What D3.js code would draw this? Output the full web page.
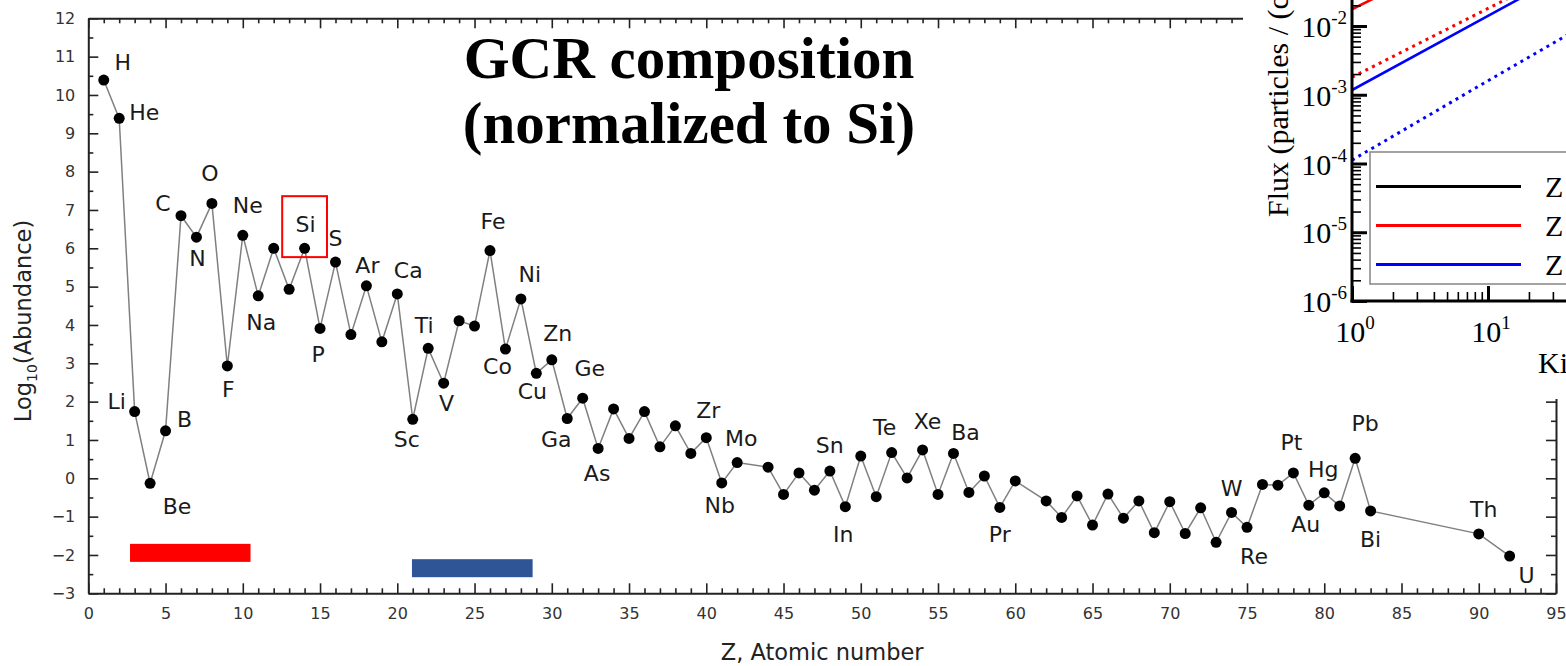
<!DOCTYPE html>
<html>
<head>
<meta charset="utf-8">
<script src="https://cdn.jsdelivr.net/npm/d3@7"></script>
<style>
body { margin: 0; background: #fff; }
</style>
</head>
<body>
<div id="viz"></div>
<script>
// ---- data ----
const atomicNumber = [1,2,3,4,5,6,7,8,9,10,11,12,13,14,15,16,17,18,19,20,21,22,23,24,25,26,27,28,29,30,
    31,32,33,34,35,36,37,38,39,40,41,42,44,45,46,47,48,49,50,51,52,53,54,55,56,57,58,59,60,
    62,63,64,65,66,67,68,69,70,71,72,73,74,75,76,77,78,79,80,81,82,83,90,92];
const symbols = ["H","He","Li","Be","B","C","N","O","F","Ne","Na","Mg","Al","Si","P","S","Cl","Ar","K","Ca",
    "Sc","Ti","V","Cr","Mn","Fe","Co","Ni","Cu","Zn","Ga","Ge","As","Se","Br","Kr","Rb","Sr","Y","Zr","Nb","Mo",
    "Ru","Rh","Pd","Ag","Cd","In","Sn","Sb","Te","I","Xe","Cs","Ba","La","Ce","Pr","Nd",
    "Sm","Eu","Gd","Tb","Dy","Ho","Er","Tm","Yb","Lu","Hf","Ta","W","Re","Os","Ir","Pt","Au","Hg","Tl","Pb","Bi","Th","U"];
const logAbundance = [10.39,9.39,1.74,-0.13,1.24,6.85,6.29,7.17,2.93,6.34,4.76,6.00,4.93,6.00,3.91,5.64,3.75,5.02,3.56,4.81,
    1.54,3.39,2.48,4.11,3.97,5.94,3.37,4.68,2.74,3.09,1.56,2.09,0.78,1.81,1.04,1.74,0.82,1.37,0.65,1.06,-0.12,0.41,
    0.29,-0.42,0.14,-0.31,0.19,-0.74,0.58,-0.48,0.67,0.01,0.74,-0.42,0.65,-0.37,0.06,-0.76,-0.07,
    -0.59,-1.02,-0.46,-1.22,-0.41,-1.04,-0.59,-1.42,-0.61,-1.44,-0.77,-1.67,-0.89,-1.28,-0.16,-0.18,0.14,-0.70,-0.38,-0.72,0.52,-0.85,-1.45,-2.03];

const labelled = ["H","He","Li","Be","B","C","N","O","F","Ne","Na","Si","P","S","Ar","Ca","Sc","Ti","V","Fe","Co","Ni",
    "Cu","Zn","Ga","Ge","As","Zr","Nb","Mo","Sn","In","Te","Xe","Ba","Pr","W","Re","Pt","Au","Hg","Pb","Bi","Th","U"];

const xTicks = d3.range(0, 96, 5);
const yTicks = d3.range(-3, 13, 1);

// highlight box around Si and the two bars, in data units [z0, z1, v0, v1]
const siBox = [12.55, 15.45, 5.77, 7.36];
const redBar = [2.7, 10.5, -2.18, -1.71];
const blueBar = [20.95, 28.76, -2.58, -2.11];

// inset: flux vs kinetic energy (only the lower-left corner is in the picture)
const insetEnergy = [1, 10, 100];
const fluxRedSolid = [1.75e-2, 0.17, 1.6];
const fluxRedDotted = [1.8e-3, 1.8e-2, 0.18];
const fluxBlueSolid = [1.17e-3, 1.4e-2, 0.17];
const fluxBlueDotted = [1.12e-4, 1.6e-3, 2.2e-2];
const insetDecadesY = [1e-6, 1e-5, 1e-4, 1e-3, 1e-2, 1e-1];
const insetDecadesX = [1, 10, 100];
const legendLabels = ["Z = 1", "Z = 2", "Z = 26"];
const legendColors = ["#000", "#f00", "#00f"];

// label placement (pixels relative to the point: dx, baseline dy)
const labelOffset = {
    H:[19,-10], He:[25,2], Li:[-18,-3], Be:[27,31], B:[19,-4], C:[-18,-5], N:[1,29], O:[-2,-22], F:[1,31],
    Ne:[5,-22], Na:[3,34], Si:[1,-16], P:[-2,34], S:[0,-16], Ar:[1,-13], Ca:[11,-16], Sc:[-6,28], Ti:[-4,-15],
    V:[3,28], Fe:[3,-22], Co:[-8,25], Ni:[9,-17], Cu:[-4,26], Zn:[6,-19], Ga:[-11,28], Ge:[7,-22], As:[-1,33],
    Zr:[2,-20], Nb:[-2,30], Mo:[4,-17], Sn:[-31,-3], In:[-2,35], Te:[-7,-18], Xe:[5,-21], Ba:[12,-13],
    Pr:[0,35], W:[0,-16], Re:[7,37], Pt:[-2,-23], Au:[-3,27], Hg:[-1,-16], Pb:[10,-27], Bi:[0,36],
    Th:[5,-17], U:[17,27]
};

const points = atomicNumber.map((z, i) => ({z: z, sym: symbols[i], v: logAbundance[i]}));

// ---- main chart ----
const width = 1566, height = 666;
const plot = {left: 88.3, right: 1556, top: 18.3, bottom: 593.3};
const sans = "'DejaVu Sans', Arial, sans-serif";
const serif = "'Liberation Serif', 'Times New Roman', serif";

const svg = d3.select("#viz")
    .append("svg")
    .attr("width", width)
    .attr("height", height)
    .style("display", "block");

svg.append("rect").attr("width", width).attr("height", height).attr("fill", "#fff");

const x = d3.scaleLinear().domain([0, 95]).range([plot.left, plot.right]);
const y = d3.scaleLinear().domain([-3, 12]).range([plot.bottom, plot.top]);

function styleAxis(g, keepDomain) {
    if (keepDomain) g.select(".domain").attr("stroke", "#222").attr("stroke-width", 2);
    else g.select(".domain").remove();
    g.selectAll(".tick line").attr("stroke", "#222").attr("stroke-width", 1.6);
    g.selectAll(".tick text").attr("fill", "#333").style("font-size", "16px").style("font-family", sans);
}

const xMinor = d3.range(0, 96).filter(d => d % 5 !== 0);
const yMinor = d3.range(-2.5, 12, 1);

// bottom
svg.append("g").attr("transform", "translate(0," + plot.bottom + ")")
    .call(d3.axisBottom(x).tickValues(xTicks).tickSize(-10).tickSizeOuter(0).tickPadding(14))
    .call(g => styleAxis(g, true));
svg.append("g").attr("transform", "translate(0," + plot.bottom + ")")
    .call(d3.axisBottom(x).tickValues(xMinor).tickSize(-5).tickFormat(""))
    .call(g => styleAxis(g, false));
// top
svg.append("g").attr("transform", "translate(0," + plot.top + ")")
    .call(d3.axisTop(x).tickValues(xTicks).tickSize(-10).tickSizeOuter(0).tickFormat(""))
    .call(g => styleAxis(g, true));
svg.append("g").attr("transform", "translate(0," + plot.top + ")")
    .call(d3.axisTop(x).tickValues(xMinor).tickSize(-5).tickFormat(""))
    .call(g => styleAxis(g, false));
// left
svg.append("g").attr("transform", "translate(" + plot.left + ",0)")
    .call(d3.axisLeft(y).tickValues(yTicks).tickSize(-10).tickSizeOuter(0).tickPadding(13))
    .call(g => styleAxis(g, true));
svg.append("g").attr("transform", "translate(" + plot.left + ",0)")
    .call(d3.axisLeft(y).tickValues(yMinor).tickSize(-5).tickFormat(""))
    .call(g => styleAxis(g, false));
// right
svg.append("g").attr("transform", "translate(" + plot.right + ",0)")
    .call(d3.axisRight(y).tickValues(yTicks).tickSize(-10).tickSizeOuter(0).tickFormat(""))
    .call(g => styleAxis(g, true));
svg.append("g").attr("transform", "translate(" + plot.right + ",0)")
    .call(d3.axisRight(y).tickValues(yMinor).tickSize(-5).tickFormat(""))
    .call(g => styleAxis(g, false));

// axis titles
svg.append("text")
    .attr("x", (plot.left + plot.right) / 2)
    .attr("y", 660)
    .attr("text-anchor", "middle")
    .style("font-family", sans).style("font-size", "22.5px").attr("fill", "#222")
    .text("Z, Atomic number");

const yTitle = svg.append("text")
    .attr("transform", "translate(31,321) rotate(-90)")
    .attr("text-anchor", "middle")
    .style("font-family", sans).style("font-size", "22.5px").attr("fill", "#222");
yTitle.append("tspan").text("Log");
yTitle.append("tspan").attr("dy", 6).style("font-size", "14px").text("10");
yTitle.append("tspan").attr("dy", -6).text("(Abundance)");

// bars and box
svg.append("rect")
    .attr("x", x(redBar[0])).attr("width", x(redBar[1]) - x(redBar[0]))
    .attr("y", y(redBar[3])).attr("height", y(redBar[2]) - y(redBar[3]))
    .attr("fill", "#ff0000");
svg.append("rect")
    .attr("x", x(blueBar[0])).attr("width", x(blueBar[1]) - x(blueBar[0]))
    .attr("y", y(blueBar[3])).attr("height", y(blueBar[2]) - y(blueBar[3]))
    .attr("fill", "#2f5597");

// data line + dots
const line = d3.line().x(d => x(d.z)).y(d => y(d.v));
svg.append("path")
    .datum(points)
    .attr("d", line)
    .attr("fill", "none")
    .attr("stroke", "#808080")
    .attr("stroke-width", 1.5);

svg.selectAll(".dot")
    .data(points)
    .enter().append("circle")
    .attr("class", "dot")
    .attr("cx", d => x(d.z))
    .attr("cy", d => y(d.v))
    .attr("r", 5.5)
    .attr("fill", "#000");

svg.selectAll(".elem-label")
    .data(points.filter(d => labelled.includes(d.sym)))
    .enter().append("text")
    .attr("class", "elem-label")
    .attr("x", d => x(d.z) + labelOffset[d.sym][0])
    .attr("y", d => y(d.v) + labelOffset[d.sym][1])
    .attr("text-anchor", "middle")
    .style("font-family", sans).style("font-size", "22px").attr("fill", "#1a1a1a")
    .text(d => d.sym);

svg.append("rect")
    .attr("x", x(siBox[0])).attr("width", x(siBox[1]) - x(siBox[0]))
    .attr("y", y(siBox[3])).attr("height", y(siBox[2]) - y(siBox[3]))
    .attr("fill", "none").attr("stroke", "#ff0000").attr("stroke-width", 2);

// title
const title = svg.append("text")
    .attr("text-anchor", "middle")
    .style("font-family", serif).style("font-weight", "bold").style("font-size", "59px")
    .attr("fill", "#000");
title.append("tspan").attr("x", 689).attr("y", 78).text("GCR composition");
title.append("tspan").attr("x", 689).attr("y", 143).text("(normalized to Si)");

// ---- inset (flux plot, cropped at the top right) ----
const inset = svg.append("g");
inset.append("rect").attr("x", 1243).attr("y", 0).attr("width", width - 1243).attr("height", 399).attr("fill", "#fff");

const ix = d3.scaleLog().domain([1, 1000]).range([1352, 1760]);
const iy = d3.scaleLog().domain([1e-6, 1]).range([301, -111.5]);

svg.append("defs").append("clipPath").attr("id", "insetClip")
    .append("rect").attr("x", 1352).attr("y", 0).attr("width", width - 1352).attr("height", 301);

const fluxSeries = [
    {vals: fluxRedSolid, color: "#f00", dash: null},
    {vals: fluxRedDotted, color: "#f00", dash: "3,4.5"},
    {vals: fluxBlueSolid, color: "#00f", dash: null},
    {vals: fluxBlueDotted, color: "#00f", dash: "3,4.5"}
];
const fluxLine = d3.line().x(d => ix(d[0])).y(d => iy(d[1]));
inset.append("g").attr("clip-path", "url(#insetClip)")
    .selectAll("path")
    .data(fluxSeries)
    .enter().append("path")
    .attr("d", s => fluxLine(insetEnergy.map((e, i) => [e, s.vals[i]])))
    .attr("fill", "none")
    .attr("stroke", s => s.color)
    .attr("stroke-width", s => s.dash ? 3 : 2.6)
    .attr("stroke-dasharray", s => s.dash);

// inset ticks
const minorY = [];
insetDecadesY.forEach(d => { for (let k = 2; k < 10; k++) minorY.push(d * k); });
const minorX = [];
insetDecadesX.forEach(d => { for (let k = 2; k < 10; k++) minorX.push(d * k); });

function styleInset(g, w) {
    g.select(".domain").remove();
    g.selectAll(".tick line").attr("stroke", "#000").attr("stroke-width", w);
}
inset.append("g").attr("transform", "translate(1352,0)")
    .call(d3.axisLeft(iy).tickValues(insetDecadesY).tickSize(-15).tickFormat(""))
    .call(g => styleInset(g, 3));
inset.append("g").attr("transform", "translate(1352,0)")
    .call(d3.axisLeft(iy).tickValues(minorY).tickSize(-9).tickFormat(""))
    .call(g => styleInset(g, 1.6));
inset.append("g").attr("transform", "translate(0,301)")
    .call(d3.axisBottom(ix).tickValues(insetDecadesX).tickSize(-15).tickFormat(""))
    .call(g => styleInset(g, 3));
inset.append("g").attr("transform", "translate(0,301)")
    .call(d3.axisBottom(ix).tickValues(minorX).tickSize(-9).tickFormat(""))
    .call(g => styleInset(g, 1.6));

inset.append("line").attr("x1", 1352).attr("x2", 1352).attr("y1", 0).attr("y2", 302.5)
    .attr("stroke", "#000").attr("stroke-width", 3);
inset.append("line").attr("x1", 1350.5).attr("x2", width).attr("y1", 301).attr("y2", 301)
    .attr("stroke", "#000").attr("stroke-width", 3);

// inset tick labels
const yLab = inset.selectAll(".iy-label")
    .data(insetDecadesY.filter(d => iy(d) > 0))
    .enter().append("text")
    .attr("class", "iy-label")
    .attr("x", 1347)
    .attr("y", d => iy(d) + 11)
    .attr("text-anchor", "end")
    .style("font-family", serif).style("font-size", "30px").attr("fill", "#000");
yLab.append("tspan").text("10");
yLab.append("tspan").attr("dy", -13).style("font-size", "19px").text(d => Math.round(Math.log10(d)));

const xLab = inset.selectAll(".ix-label")
    .data(insetDecadesX.filter(d => ix(d) < width))
    .enter().append("text")
    .attr("class", "ix-label")
    .attr("x", d => ix(d) + 3)
    .attr("y", 342)
    .attr("text-anchor", "middle")
    .style("font-family", serif).style("font-size", "30px").attr("fill", "#000");
xLab.append("tspan").text("10");
xLab.append("tspan").attr("dy", -13).style("font-size", "19px").text(d => Math.round(Math.log10(d)));

inset.append("text")
    .attr("x", 1538).attr("y", 373)
    .style("font-family", serif).style("font-size", "30px").attr("fill", "#000")
    .text("Kinetic Energy (MeV/n)");

inset.append("text")
    .attr("transform", "translate(1288,217) rotate(-90)")
    .style("font-family", serif).style("font-size", "30px").attr("fill", "#000")
    .text("Flux (particles / (cm\u00b2 sr s MeV/n))");

// inset legend
inset.append("rect")
    .attr("x", 1370).attr("y", 152).attr("width", 260).attr("height", 132)
    .attr("fill", "#fff").attr("stroke", "#8c8c8c").attr("stroke-width", 1.6);
const legendY = d3.scalePoint().domain(legendLabels).range([186.5, 264.5]);
inset.selectAll(".leg-line")
    .data(legendLabels)
    .enter().append("line")
    .attr("x1", 1376).attr("x2", 1521)
    .attr("y1", d => legendY(d)).attr("y2", d => legendY(d))
    .attr("stroke", (d, i) => legendColors[i]).attr("stroke-width", 3);
inset.selectAll(".leg-text")
    .data(legendLabels)
    .enter().append("text")
    .attr("x", 1545)
    .attr("y", d => legendY(d) + 10)
    .style("font-family", serif).style("font-size", "30px").attr("fill", "#000")
    .text(d => d);
</script>
</body>
</html>
